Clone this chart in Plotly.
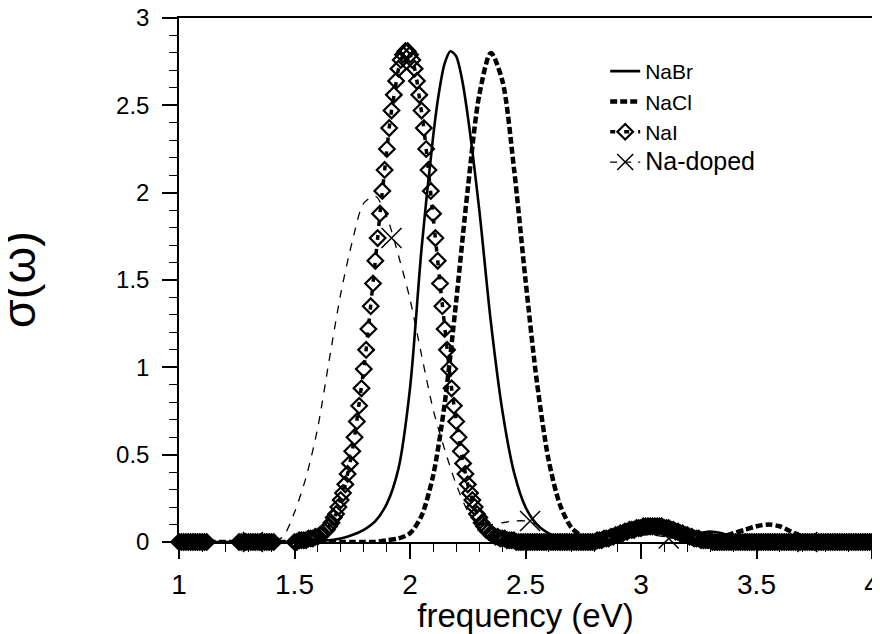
import plotly.graph_objects as go

# ---------------- data ----------------
# NaI: sampled every 0.01 eV, three sampled stretches
nai_start_a = 1.00
nai_sigma_a = [0.00, 0.00, 0.00, 0.00, 0.00, 0.00, 0.00, 0.00, 0.00, 0.00, 0.00, 0.00, 0.00]
nai_start_b = 1.26
nai_sigma_b = [0.00, 0.00, 0.00, 0.00, 0.00, 0.00, 0.00, 0.00, 0.00, 0.00, 0.00, 0.00, 0.00, 0.00, 0.00, 0.00]
nai_start_c = 1.50
nai_sigma_c = [
    0.00, 0.00, 0.01, 0.01, 0.01, 0.01, 0.02, 0.02, 0.02, 0.03,   # 1.50
    0.03, 0.04, 0.05, 0.06, 0.07, 0.09, 0.11, 0.14, 0.16, 0.20,   # 1.60
    0.24, 0.28, 0.33, 0.39, 0.45, 0.52, 0.60, 0.69, 0.78, 0.88,   # 1.70
    0.99, 1.10, 1.22, 1.35, 1.48, 1.61, 1.74, 1.88, 2.01, 2.13,   # 1.80
    2.25, 2.37, 2.47, 2.56, 2.64, 2.71, 2.76, 2.79, 2.81, 2.81,   # 1.90
    2.79, 2.76, 2.71, 2.64, 2.56, 2.47, 2.37, 2.25, 2.13, 2.01,   # 2.00
    1.88, 1.74, 1.61, 1.48, 1.35, 1.22, 1.10, 0.99, 0.88, 0.78,   # 2.10
    0.69, 0.60, 0.52, 0.45, 0.39, 0.33, 0.28, 0.24, 0.20, 0.16,   # 2.20
    0.14, 0.11, 0.09, 0.07, 0.06, 0.05, 0.04, 0.03, 0.03, 0.02,   # 2.30
    0.02, 0.02, 0.01, 0.01, 0.01, 0.01, 0.00, 0.00, 0.00, 0.00,   # 2.40
    0.00, 0.00, 0.00, 0.00, 0.00, 0.00, 0.00, 0.00, 0.00, 0.00,   # 2.50
    0.00, 0.00, 0.00, 0.00, 0.00, 0.00, 0.00, 0.00, 0.00, 0.00,   # 2.60
    0.00, 0.00, 0.00, 0.00, 0.00, 0.00, 0.00, 0.00, 0.00, 0.00,   # 2.70
    0.00, 0.01, 0.01, 0.01, 0.02, 0.02, 0.02, 0.03, 0.03, 0.04,   # 2.80
    0.04, 0.05, 0.05, 0.06, 0.06, 0.07, 0.07, 0.07, 0.08, 0.08,   # 2.90
    0.08, 0.09, 0.09, 0.09, 0.09, 0.09, 0.09, 0.09, 0.09, 0.09,   # 3.00
    0.08, 0.08, 0.08, 0.07, 0.07, 0.06, 0.06, 0.05, 0.05, 0.04,   # 3.10
    0.04, 0.03, 0.03, 0.02, 0.02, 0.02, 0.01, 0.01, 0.01, 0.01,   # 3.20
    0.01, 0.00, 0.00, 0.00, 0.00, 0.00, 0.00, 0.00, 0.00, 0.00,   # 3.30
    0.00, 0.00, 0.00, 0.00, 0.00, 0.00, 0.00, 0.00, 0.00, 0.00,   # 3.40
    0.00, 0.00, 0.00, 0.00, 0.00, 0.00, 0.00, 0.00, 0.00, 0.00,   # 3.50
    0.00, 0.00, 0.00, 0.00, 0.00, 0.00, 0.00, 0.00, 0.00, 0.00,   # 3.60
    0.00, 0.00, 0.00, 0.00, 0.00, 0.00, 0.00, 0.00, 0.00, 0.00,   # 3.70
    0.00, 0.00, 0.00, 0.00, 0.00, 0.00, 0.00, 0.00, 0.00, 0.00,   # 3.80
    0.00, 0.00, 0.00, 0.00, 0.00, 0.00, 0.00, 0.00, 0.00, 0.00,   # 3.90
    0.00,                                                         # 4.00
]
nai_step = 0.01

# NaBr: every 0.05 eV, finer around the peak
nabr_freq = [
    1.00, 1.05, 1.10, 1.15, 1.20, 1.25, 1.30, 1.35, 1.40, 1.45,
    1.50, 1.55, 1.60, 1.65, 1.70, 1.75, 1.80, 1.85, 1.90, 1.95,
    2.00, 2.05, 2.10, 2.125, 2.15, 2.175, 2.20, 2.225, 2.25, 2.30, 2.35, 2.40, 2.45,
    2.50, 2.55, 2.60, 2.65, 2.70, 2.75, 2.80, 2.85, 2.90, 2.95,
    3.00, 3.05, 3.10, 3.15, 3.20, 3.25, 3.30, 3.35, 3.40, 3.45,
    3.50, 3.55, 3.60, 3.65, 3.70, 3.75, 3.80, 3.85, 3.90, 3.95, 4.00,
]
nabr_sigma = [
    0.00, 0.00, 0.00, 0.00, 0.00, 0.00, 0.00, 0.00, 0.00, 0.00,
    0.00, 0.00, 0.01, 0.01, 0.02, 0.04, 0.07, 0.12, 0.22, 0.42,
    0.88, 1.68, 2.32, 2.57, 2.74, 2.81, 2.78, 2.65, 2.44, 1.90, 1.26, 0.75, 0.40,
    0.20, 0.10, 0.05, 0.02, 0.01, 0.01, 0.02, 0.03, 0.05, 0.07,
    0.08, 0.09, 0.08, 0.06, 0.04, 0.05, 0.06, 0.05, 0.03, 0.02,
    0.01, 0.00, 0.00, 0.00, 0.00, 0.00, 0.00, 0.00, 0.00, 0.00, 0.00,
]

# NaCl and Na-doped: sampled every 0.05 eV from 1.00 to 4.00
curve_start = 1.00
curve_step = 0.05
nacl_sigma = [
    0.00, 0.00, 0.00, 0.00, 0.00, 0.00, 0.00, 0.00, 0.00, 0.00,   # 1.00-1.45
    0.00, 0.00, 0.00, 0.00, 0.00, 0.00, 0.00, 0.00, 0.01, 0.02,   # 1.50-1.95
    0.05, 0.15, 0.38, 0.79, 1.38, 2.02, 2.56, 2.80, 2.64, 2.14,   # 2.00-2.45
    1.50, 0.91, 0.47, 0.21, 0.08, 0.03, 0.01, 0.01, 0.03, 0.05,   # 2.50-2.95
    0.07, 0.08, 0.07, 0.05, 0.03, 0.02, 0.02, 0.03, 0.05, 0.07,   # 3.00-3.45
    0.09, 0.10, 0.09, 0.06, 0.03, 0.01, 0.00, 0.00, 0.00, 0.00,   # 3.50-3.95
    0.00,                                                         # 4.00
]
nadoped_sigma = [
    0.00, 0.00, 0.00, 0.00, 0.00, 0.00, 0.00, 0.00, 0.00, 0.03,   # 1.00-1.45
    0.17, 0.37, 0.65, 1.04, 1.42, 1.72, 1.94, 1.98, 1.86, 1.64,   # 1.50-1.95
    1.39, 1.07, 0.76, 0.53, 0.33, 0.18, 0.11, 0.10, 0.11, 0.12,   # 2.00-2.45
    0.12, 0.10, 0.05, 0.02, 0.01, 0.00, 0.00, 0.01, 0.02, 0.03,   # 2.50-2.95
    0.04, 0.04, 0.03, 0.02, 0.01, 0.00, 0.00, 0.00, 0.00, 0.00,   # 3.00-3.45
    0.00, 0.00, 0.00, 0.00, 0.00, 0.00, 0.00, 0.00, 0.00, 0.00,   # 3.50-3.95
    0.00,                                                         # 4.00
]
# Na-doped symbols (every 0.6 eV)
nadoped_mark_freq = [1.32, 1.92, 2.52, 3.12, 3.72]
nadoped_mark_sigma = [0.00, 1.74, 0.12, 0.02, 0.00]

x_ticks = [1, 1.5, 2, 2.5, 3, 3.5, 4]
x_tick_labels = ["1", "1.5", "2", "2.5", "3", "3.5", "4"]
y_ticks = [0, 0.5, 1, 1.5, 2, 2.5, 3]
y_tick_labels = ["0", "0.5", "1", "1.5", "2", "2.5", "3"]

# ---------------- build ----------------
def grid(start, step, n):
    return [round(start + step * i, 2) for i in range(n)]

nai_x = (grid(nai_start_a, nai_step, len(nai_sigma_a)) +
         grid(nai_start_b, nai_step, len(nai_sigma_b)) +
         grid(nai_start_c, nai_step, len(nai_sigma_c)))
nai_y = nai_sigma_a + nai_sigma_b + nai_sigma_c
curve_x = grid(curve_start, curve_step, len(nacl_sigma))

FONT = "Liberation Sans, Arial, Helvetica, sans-serif"
fig = go.Figure()

fig.add_trace(go.Scatter(
    x=nabr_freq, y=nabr_sigma, name="NaBr", mode="lines",
    line=dict(color="black", width=2.6, shape="spline", smoothing=0.8),
))
fig.add_trace(go.Scatter(
    x=curve_x, y=nacl_sigma, name="NaCl", mode="lines",
    line=dict(color="black", width=4.5, dash="7px,3px", shape="spline", smoothing=0.8),
))
fig.add_trace(go.Scatter(
    x=nai_x, y=nai_y, name="NaI", mode="lines+markers", cliponaxis=False,
    line=dict(color="black", width=3.5, dash="5px,9px"),
    marker=dict(symbol="diamond-open", size=12, color="black",
                line=dict(color="black", width=2.2)),
))
# legend-only entry for Na-doped (line + symbol)
fig.add_trace(go.Scatter(
    x=[None], y=[None], name='<span style="font-size:25px">Na-doped</span>',
    mode="lines+markers",
    line=dict(color="black", width=1.3, dash="7px,7px"),
    marker=dict(symbol="x-thin-open", size=18, color="black",
                line=dict(color="black", width=1.5)),
))
fig.add_trace(go.Scatter(
    x=curve_x, y=nadoped_sigma, name="Na-doped", mode="lines", showlegend=False,
    line=dict(color="black", width=1.3, dash="8px,8px", shape="spline", smoothing=0.8),
))
fig.add_trace(go.Scatter(
    x=nadoped_mark_freq, y=nadoped_mark_sigma, name="Na-doped", mode="markers",
    showlegend=False, cliponaxis=False,
    marker=dict(symbol="x-thin-open", size=20, color="black",
                line=dict(color="black", width=1.5)),
))

axis_common = dict(
    showline=True, linecolor="black", linewidth=1.5, mirror=True,
    ticks="outside", ticklen=15, tickwidth=1.5, tickcolor="black",
    showgrid=False, zeroline=False, ticklabeloverflow="allow",
)
fig.update_xaxes(
    range=[1, 4], tickvals=x_ticks, ticktext=x_tick_labels,
    minor=dict(dtick=0.1, ticks="outside", ticklen=8, tickwidth=1.2, tickcolor="black"),
    tickfont=dict(family=FONT, size=28, color="black"),
    title=dict(text="frequency (eV)", font=dict(family=FONT, size=33, color="black"), standoff=6),
    ticklabelstandoff=2,
    **axis_common,
)
fig.update_yaxes(
    range=[0, 3], tickvals=y_ticks, ticktext=y_tick_labels,
    minor=dict(dtick=0.1, ticks="outside", ticklen=8, tickwidth=1.2, tickcolor="black"),
    tickfont=dict(family=FONT, size=24, color="black"),
    ticklabelstandoff=8,
    **axis_common,
)
fig.add_annotation(
    text="σ(ω)", xref="paper", yref="paper", x=-0.232, y=0.5,
    xanchor="center", yanchor="middle", textangle=-90, showarrow=False,
    font=dict(family=FONT, size=47, color="black"),
)
fig.update_layout(
    width=872, height=626,
    margin=dict(l=171, r=8, t=10, b=92, autoexpand=False),
    plot_bgcolor="white", paper_bgcolor="white",
    showlegend=True,
    legend=dict(x=0.615, y=0.937, xanchor="left", yanchor="top",
                bgcolor="rgba(0,0,0,0)", borderwidth=0,
                font=dict(family=FONT, size=21, color="black"),
                traceorder="normal", itemwidth=30),
)
fig.write_html("out.html")
